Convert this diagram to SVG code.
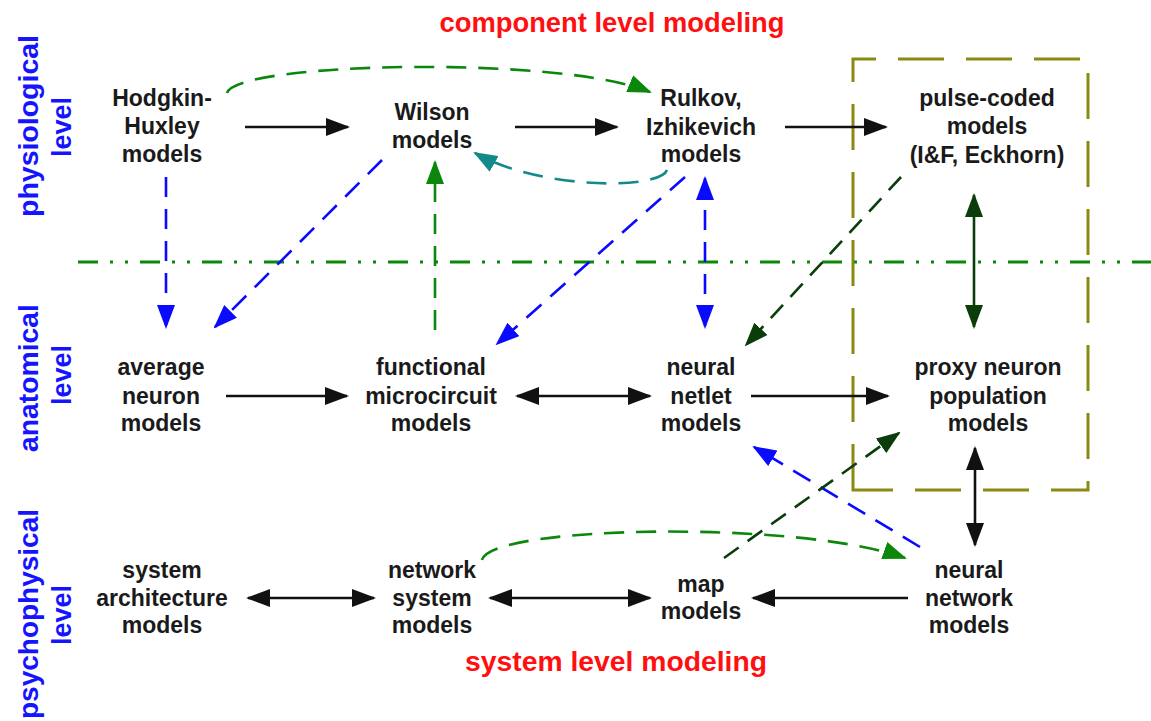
<svg xmlns="http://www.w3.org/2000/svg" width="1151" height="721" viewBox="0 0 1151 721">
<style>
.node text{font-family:"Liberation Sans",Arial,sans-serif;font-weight:bold;font-size:23px;fill:#1a1a1a;text-anchor:middle}
.title{font-family:"Liberation Sans",Arial,sans-serif;font-weight:bold;font-size:27px;fill:#ff1010;text-anchor:middle}
.lvl{font-family:"Liberation Sans",Arial,sans-serif;font-weight:bold;font-size:28px;fill:#1414ff;text-anchor:middle}
.c{fill:none;stroke-width:2.6}
.k{stroke:#111}
.b{stroke:#0a0aff;stroke-dasharray:20 12}
.g{stroke:#0b870b;stroke-dasharray:20 12}
.t{stroke:#138a8a;stroke-dasharray:20 12}
.dg{stroke:#0a3d0a;stroke-dasharray:18 11}
.dgs{stroke:#0a3d0a}
</style>
<defs>
<marker id="ak" markerUnits="userSpaceOnUse" viewBox="0 0 24 18" markerWidth="24" markerHeight="18" refX="22" refY="9" orient="auto-start-reverse"><path d="M0,0 L24,9 L0,18 Z" fill="#111"/></marker>
<marker id="ab" markerUnits="userSpaceOnUse" viewBox="0 0 24 18" markerWidth="24" markerHeight="18" refX="22" refY="9" orient="auto-start-reverse"><path d="M0,0 L24,9 L0,18 Z" fill="#0a0aff"/></marker>
<marker id="ag" markerUnits="userSpaceOnUse" viewBox="0 0 24 18" markerWidth="24" markerHeight="18" refX="22" refY="9" orient="auto-start-reverse"><path d="M0,0 L24,9 L0,18 Z" fill="#0b870b"/></marker>
<marker id="at" markerUnits="userSpaceOnUse" viewBox="0 0 24 18" markerWidth="24" markerHeight="18" refX="22" refY="9" orient="auto-start-reverse"><path d="M0,0 L24,9 L0,18 Z" fill="#138a8a"/></marker>
<marker id="ad" markerUnits="userSpaceOnUse" viewBox="0 0 24 18" markerWidth="24" markerHeight="18" refX="22" refY="9" orient="auto-start-reverse"><path d="M0,0 L24,9 L0,18 Z" fill="#0a3d0a"/></marker>
</defs>
<rect width="1151" height="721" fill="#fff"/>

<g id="background">
<path d="M853,490 L853,59 L1088,59 L1088,490 Z" fill="none" stroke="#8a8a10" stroke-width="3" stroke-dasharray="46 22"/>
<line x1="78" y1="262" x2="1151" y2="262" stroke="#0b870b" stroke-width="3" stroke-dasharray="20 12 3 12 3 12"/>
</g>

<g id="labels">
<text class="title" x="612" y="32" textLength="345" lengthAdjust="spacingAndGlyphs">component level modeling</text>
<text class="title" x="616" y="671" textLength="302" lengthAdjust="spacingAndGlyphs">system level modeling</text>
<text class="lvl" transform="translate(38,126) rotate(-90)" textLength="182" lengthAdjust="spacingAndGlyphs">physiological</text>
<text class="lvl" transform="translate(71,127) rotate(-90)" textLength="60" lengthAdjust="spacingAndGlyphs">level</text>
<text class="lvl" transform="translate(38,378) rotate(-90)" textLength="148" lengthAdjust="spacingAndGlyphs">anatomical</text>
<text class="lvl" transform="translate(71,375) rotate(-90)" textLength="60" lengthAdjust="spacingAndGlyphs">level</text>
<text class="lvl" transform="translate(38,614) rotate(-90)" textLength="210" lengthAdjust="spacingAndGlyphs">psychophysical</text>
<text class="lvl" transform="translate(71,615) rotate(-90)" textLength="60" lengthAdjust="spacingAndGlyphs">level</text>
</g>

<g id="connectors">
<path class="c k" d="M245,127 H348" marker-end="url(#ak)"/>
<path class="c k" d="M515,127 H617" marker-end="url(#ak)"/>
<path class="c k" d="M785,127 H886" marker-end="url(#ak)"/>
<path class="c k" d="M226,396 H347" marker-end="url(#ak)"/>
<path class="c k" d="M517,396 H650" marker-start="url(#ak)" marker-end="url(#ak)"/>
<path class="c k" d="M751,396 H888" marker-end="url(#ak)"/>
<path class="c k" d="M248,598 H374" marker-start="url(#ak)" marker-end="url(#ak)"/>
<path class="c k" d="M490,598 H650" marker-start="url(#ak)" marker-end="url(#ak)"/>
<path class="c k" d="M908,598 H753" marker-end="url(#ak)"/>
<path class="c k" d="M975,448 V545" marker-start="url(#ak)" marker-end="url(#ak)"/>
<path class="c dgs" d="M974,195 V327" marker-start="url(#ad)" marker-end="url(#ad)"/>
<path class="c b" d="M166,177 V327" marker-end="url(#ab)"/>
<path class="c b" d="M382,160 L215,327" marker-end="url(#ab)"/>
<path class="c b" d="M685,177 L497,344" marker-end="url(#ab)"/>
<path class="c b" d="M705,178 V327" marker-start="url(#ab)" marker-end="url(#ab)"/>
<path class="c b" d="M920,547 L754,447" marker-end="url(#ab)"/>
<path class="c g" d="M435,330 V162" marker-end="url(#ag)"/>
<path class="c g" d="M227,93 C235,62 560,55 650,92" marker-end="url(#ag)"/>
<path class="c g" d="M482,560 C490,525 800,520 905,558" marker-end="url(#ag)"/>
<path class="c t" d="M667,170 C660,190 540,190 475,153" marker-end="url(#at)"/>
<path class="c dg" d="M901,177 L746,345" marker-end="url(#ad)"/>
<path class="c dg" d="M724,558 L899,433" marker-end="url(#ad)"/>
</g>

<g id="n-hodgkin" class="node"><text x="162" y="106">Hodgkin-</text><text x="162" y="134">Huxley</text><text x="162" y="162">models</text></g>
<g id="n-wilson" class="node"><text x="432" y="120">Wilson</text><text x="432" y="148">models</text></g>
<g id="n-rulkov" class="node"><text x="701" y="106">Rulkov,</text><text x="701" y="135">Izhikevich</text><text x="701" y="162">models</text></g>
<g id="n-pulse" class="node"><text x="987" y="106">pulse-coded</text><text x="987" y="134">models</text><text x="987" y="163">(I&amp;F, Eckhorn)</text></g>
<g id="n-average" class="node"><text x="161" y="375">average</text><text x="161" y="404">neuron</text><text x="161" y="431">models</text></g>
<g id="n-functional" class="node"><text x="431" y="375">functional</text><text x="431" y="404">microcircuit</text><text x="431" y="431">models</text></g>
<g id="n-netlet" class="node"><text x="701" y="375">neural</text><text x="701" y="404">netlet</text><text x="701" y="431">models</text></g>
<g id="n-proxy" class="node"><text x="988" y="375">proxy neuron</text><text x="988" y="404">population</text><text x="988" y="431">models</text></g>
<g id="n-sysarch" class="node"><text x="162" y="578">system</text><text x="162" y="606">architecture</text><text x="162" y="633">models</text></g>
<g id="n-netsys" class="node"><text x="432" y="578">network</text><text x="432" y="606">system</text><text x="432" y="633">models</text></g>
<g id="n-map" class="node"><text x="701" y="592">map</text><text x="701" y="619">models</text></g>
<g id="n-neuralnet" class="node"><text x="969" y="578">neural</text><text x="969" y="606">network</text><text x="969" y="633">models</text></g>
</svg>
